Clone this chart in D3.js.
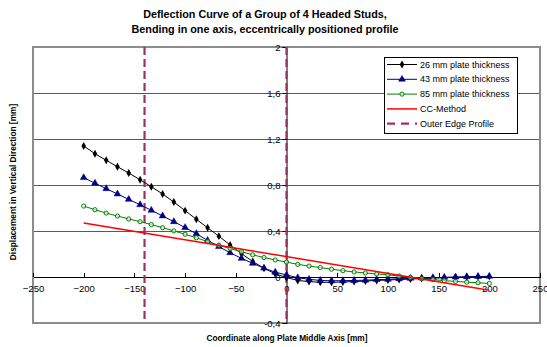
<!DOCTYPE html>
<html>
<head>
<meta charset="utf-8">
<script src="https://cdn.jsdelivr.net/npm/d3@7"></script>
<style>
  html, body { margin: 0; padding: 0; background: #fff; }
  svg { display: block; font-family: "Liberation Sans", Arial, sans-serif; }
</style>
</head>
<body>
<svg id="chart" width="547" height="347"></svg>
<script>
// Measurement positions along the plate middle axis [mm]
const positions = [-200, -188.9, -177.8, -166.7, -155.6, -144.4, -133.3, -122.2, -111.1, -100,
  -88.9, -77.8, -66.7, -55.6, -44.4, -33.3, -22.2, -11.1, 0, 11.1, 22.2, 33.3, 44.4, 55.6,
  66.7, 77.8, 88.9, 100, 111.1, 122.2, 133.3, 144.4, 155.6, 166.7, 177.8, 188.9, 200];

// Vertical displacement [mm] for each plate thickness
const plate26 = [1.139, 1.072, 1.015, 0.959, 0.904, 0.846, 0.785, 0.722, 0.652, 0.577,
  0.502, 0.428, 0.355, 0.278, 0.203, 0.135, 0.076, 0.028, -0.005, -0.03, -0.04, -0.046,
  -0.046, -0.043, -0.04, -0.035, -0.03, -0.026, -0.022, -0.018, -0.014, -0.01, -0.006,
  -0.003, 0, 0.003, 0.005];
const plate43 = [0.864, 0.815, 0.768, 0.722, 0.675, 0.628, 0.58, 0.531, 0.481, 0.43,
  0.376, 0.318, 0.264, 0.211, 0.162, 0.119, 0.077, 0.042, 0.018, -0.006, -0.02, -0.03,
  -0.033, -0.032, -0.03, -0.028, -0.023, -0.02, -0.015, -0.012, -0.009, -0.006, -0.003,
  0, 0.002, 0.004, 0.006];
const plate85 = [0.617, 0.585, 0.556, 0.53, 0.505, 0.481, 0.456, 0.429, 0.401, 0.372,
  0.341, 0.308, 0.276, 0.248, 0.22, 0.193, 0.169, 0.148, 0.13, 0.11, 0.095, 0.082,
  0.068, 0.055, 0.044, 0.035, 0.027, 0.019, 0.008, -0.003, -0.015, -0.023, -0.032,
  -0.038, -0.045, -0.05, -0.056];

// CC-Method straight line
const ccX = [-200, 200];
const ccY = [0.47, -0.115];

// Outer edge positions of the profile
const edgeX = [-140, 0];

// Axis ticks
const xTicks = [-250, -200, -150, -100, -50, 0, 50, 100, 150, 200, 250];
const yTicks = [-0.4, 0, 0.4, 0.8, 1.2, 1.6, 2];
const yTickLabels = ["-0,4", "0", "0,4", "0,8", "1,2", "1,6", "2"];

const seriesNames = ["26 mm plate thickness", "43 mm plate thickness", "85 mm plate thickness", "CC-Method", "Outer Edge Profile"];

const svg = d3.select("#chart");
const x = d3.scaleLinear().domain([-250, 250]).range([33, 540]);
const y = d3.scaleLinear().domain([-0.4, 2]).range([323, 47]);

const gridColor = "#5a5a5a";
const purple = "#993366";

// Gridlines
svg.append("g").selectAll("line").data(yTicks).join("line")
  .attr("x1", x(-250)).attr("x2", x(250))
  .attr("y1", d => y(d)).attr("y2", d => y(d))
  .attr("stroke", gridColor).attr("stroke-width", 1)
  .attr("shape-rendering", "crispEdges");

// Plot border
svg.append("rect")
  .attr("x", x(-250)).attr("y", y(2))
  .attr("width", x(250) - x(-250)).attr("height", y(-0.4) - y(2))
  .attr("fill", "none").attr("stroke", "#8c8c8c").attr("stroke-width", 1.2)
  .attr("shape-rendering", "crispEdges");

// X axis through y = 0
const xAxis = d3.axisBottom(x).tickValues(xTicks).tickSize(0).tickPadding(8);
const gx = svg.append("g").attr("transform", `translate(0,${y(0)})`).call(xAxis);
gx.select(".domain").attr("stroke", "#000").attr("shape-rendering", "crispEdges");
gx.selectAll(".tick text").attr("font-size", 9.5).attr("fill", "#000")
  .attr("font-family", "Liberation Sans, Arial, sans-serif");
gx.selectAll(".tick").append("line").attr("y1", -4).attr("y2", 0)
  .attr("stroke", "#000").attr("shape-rendering", "crispEdges");

// Y axis through x = 0
const yAxis = d3.axisLeft(y).tickValues(yTicks).tickSize(4).tickPadding(2)
  .tickFormat((d, i) => yTickLabels[i]);
const gy = svg.append("g").attr("transform", `translate(${x(0)},0)`).call(yAxis);
gy.select(".domain").attr("stroke", "#000");
gy.selectAll(".tick line").attr("stroke", "#000");
gy.selectAll(".tick text").attr("font-size", 9.5).attr("fill", "#000")
  .attr("font-family", "Liberation Sans, Arial, sans-serif");

// Outer edge dashed lines
svg.append("g").selectAll("line").data(edgeX).join("line")
  .attr("x1", d => x(d)).attr("x2", d => x(d))
  .attr("y1", y(2)).attr("y2", y(-0.4))
  .attr("stroke", purple).attr("stroke-width", 2.2)
  .attr("stroke-dasharray", "8,4");

const line = d3.line().x(d => x(d[0])).y(d => y(d[1]));

function drawSeries(vals, color, marker) {
  const pts = positions.map((p, i) => [p, vals[i]]);
  svg.append("path").datum(pts).attr("d", line)
    .attr("fill", "none").attr("stroke", color).attr("stroke-width", 1);
  const g = svg.append("g");
  pts.forEach(p => marker(g, x(p[0]), y(p[1])));
}

const diamond = (g, cx, cy) => g.append("path")
  .attr("d", d3.symbol(d3.symbolDiamond, 18)())
  .attr("transform", `translate(${cx},${cy})`).attr("fill", "#000");
const triangle = (g, cx, cy) => g.append("path")
  .attr("d", d3.symbol(d3.symbolTriangle, 20)())
  .attr("transform", `translate(${cx},${cy})`).attr("fill", "#000080").attr("stroke", "#000080").attr("stroke-width", 0.5);
const ring = (g, cx, cy) => g.append("circle")
  .attr("cx", cx).attr("cy", cy).attr("r", 2.1)
  .attr("fill", "#fff").attr("fill-opacity", 0.6).attr("stroke", "#008000").attr("stroke-width", 1);

drawSeries(plate26, "#000", diamond);
drawSeries(plate43, "#000080", triangle);
drawSeries(plate85, "#008000", ring);

// CC-Method
svg.append("path").datum(ccX.map((v, i) => [v, ccY[i]])).attr("d", line)
  .attr("fill", "none").attr("stroke", "#ff0000").attr("stroke-width", 1.5);

// Legend
const lg = svg.append("g").attr("transform", "translate(384,57)");
lg.append("rect").attr("x", 0).attr("y", 0).attr("width", 133).attr("height", 76)
  .attr("fill", "#fff").attr("stroke", "#000").attr("stroke-width", 1)
  .attr("shape-rendering", "crispEdges");
const legendItems = [
  { color: "#000", marker: diamond, dash: null, w: 1 },
  { color: "#000080", marker: triangle, dash: null, w: 1 },
  { color: "#008000", marker: ring, dash: null, w: 1 },
  { color: "#ff0000", marker: null, dash: null, w: 1.5 },
  { color: purple, marker: null, dash: "8,6", w: 2.2 }
];
legendItems.forEach((it, i) => {
  const cy = 7.5 + i * 14.8;
  lg.append("line").attr("x1", 3).attr("x2", 33).attr("y1", cy).attr("y2", cy)
    .attr("stroke", it.color).attr("stroke-width", it.w)
    .attr("stroke-dasharray", it.dash);
  if (it.marker) it.marker(lg, 18, cy);
  lg.append("text").attr("x", 36).attr("y", cy).attr("dy", "0.35em")
    .attr("font-size", 9).attr("fill", "#000").text(seriesNames[i]);
});

// Titles
const title = svg.append("text").attr("text-anchor", "middle")
  .attr("font-size", 10.8).attr("font-weight", "bold").attr("fill", "#000");
title.append("tspan").attr("x", 265).attr("y", 18).text("Deflection Curve of a Group of 4 Headed Studs,");
title.append("tspan").attr("x", 265).attr("y", 33).text("Bending in one axis, eccentrically positioned profile");

svg.append("text").attr("x", 287).attr("y", 341).attr("text-anchor", "middle")
  .attr("font-size", 8.3).attr("font-weight", "bold").attr("fill", "#000")
  .text("Coordinate along Plate Middle Axis [mm]");

svg.append("text").attr("transform", "translate(16,182) rotate(-90)")
  .attr("text-anchor", "middle")
  .attr("font-size", 8.3).attr("font-weight", "bold").attr("fill", "#000")
  .text("Displacement in Vertical Direction [mm]");
</script>
</body>
</html>
